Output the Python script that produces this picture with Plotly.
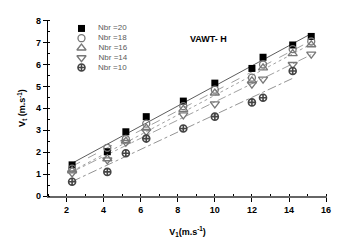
import numpy as np
import plotly.graph_objects as go

x_main = [2.3, 4.2, 5.2, 6.3, 8.3, 10.0, 12.0, 12.6, 14.2, 15.2]
x_n10 = [2.3, 4.2, 5.2, 6.3, 8.3, 10.0, 12.0, 12.6, 14.2]

nbr20 = [1.42, 2.02, 2.93, 3.62, 4.33, 5.15, 5.82, 6.33, 6.89, 7.28]
nbr18 = [1.25, 2.20, 2.60, 3.30, 4.10, 4.85, 5.40, 6.00, 6.70, 7.05]
nbr16 = [1.15, 1.70, 2.50, 3.10, 3.95, 4.70, 5.25, 5.85, 6.50, 6.90]
nbr14 = [1.05, 1.65, 2.45, 2.95, 3.70, 4.20, 5.10, 5.33, 6.00, 6.47]
nbr10 = [0.65, 1.10, 1.95, 2.62, 3.08, 3.62, 4.27, 4.48, 5.70]

labels = ["Nbr =20", "Nbr =18", "Nbr =16", "Nbr =14", "Nbr =10"]
x_ticks = [2, 4, 6, 8, 10, 12, 14, 16]
y_ticks = [0, 1, 2, 3, 4, 5, 6, 7, 8]

series = [
    (labels[0], x_main, nbr20, dict(symbol="square", color="black", size=7), "solid", "#333333"),
    (labels[1], x_main, nbr18, dict(symbol="circle-open", color="#777777", size=7, line=dict(width=1.3)), "dash", "#888888"),
    (labels[2], x_main, nbr16, dict(symbol="triangle-up-open", color="#777777", size=8, line=dict(width=1.3)), "dot", "#888888"),
    (labels[3], x_main, nbr14, dict(symbol="triangle-down-open", color="#777777", size=8, line=dict(width=1.3)), "dashdot", "#888888"),
    (labels[4], x_n10, nbr10, dict(symbol="circle-cross-open", color="#444444", size=7, line=dict(width=1.6)), "dashdot", "#777777"),
]

fig = go.Figure()
for name, xs, ys, mk, dash, lc in series:
    xs_a = np.array(xs)
    k, b = np.polyfit(xs_a, np.array(ys), 1)
    xl = np.array([xs_a.min(), xs_a.max()])
    fig.add_trace(go.Scatter(x=xl, y=k * xl + b, mode="lines",
                             line=dict(color=lc, width=0.8, dash=dash),
                             showlegend=False, hoverinfo="skip"))
for name, xs, ys, mk, dash, lc in series:
    fig.add_trace(go.Scatter(x=xs, y=ys, mode="markers", name=name, marker=mk,
                             showlegend=False))

# compact legend drawn on an overlaid hidden axis pair (layout only)
leg_top, leg_step, leg_x = 0.952, 0.0555, 0.12
for i, (name, xs, ys, mk, dash, lc) in enumerate(series):
    fig.add_trace(go.Scatter(x=[leg_x], y=[leg_top - i * leg_step], xaxis="x2", yaxis="y2",
                             mode="markers+text", marker=mk, text=["     " + name],
                             textposition="middle right",
                             textfont=dict(family="Arial", size=8, color="#5a5a5a"),
                             showlegend=False, hoverinfo="skip"))

fig.add_annotation(text="<b>VAWT- H</b>", xref="paper", yref="paper",
                   x=0.576, y=0.93, showarrow=False,
                   font=dict(family="Arial", size=9, color="black"))

fig.update_layout(
    width=343, height=248,
    margin=dict(l=48, r=12, t=20, b=40),
    paper_bgcolor="white", plot_bgcolor="white",
    font=dict(family="Arial", size=9, color="black"),
    showlegend=False,
    xaxis=dict(range=[1, 16.05], tickvals=x_ticks, showgrid=False, zeroline=False,
               showline=True, linecolor="#666666", linewidth=1.5,
               ticks="outside", ticklen=4, tickcolor="black",
               minor=dict(dtick=1, ticks="inside", ticklen=2, tickcolor="black"),
               tickfont=dict(family="Arial", size=9, weight="bold"),
               title=dict(text="<b>V<sub>1</sub>(m.s<sup>-1</sup>)</b>", font=dict(size=9), standoff=15)),
    yaxis=dict(range=[0, 8.03], tickvals=y_ticks, showgrid=False, zeroline=False,
               showline=True, linecolor="black", linewidth=1.2,
               ticks="outside", ticklen=4, tickcolor="black",
               minor=dict(dtick=0.5, ticks="inside", ticklen=2, tickcolor="black"),
               tickfont=dict(family="Arial", size=9, weight="bold"),
               title=dict(text="<b>V<sub>t</sub> (m.s<sup>-1</sup>)</b>", font=dict(size=9), standoff=8)),
    xaxis2=dict(overlaying="x", range=[0, 1], visible=False, fixedrange=True),
    yaxis2=dict(overlaying="y", range=[0, 1], visible=False, fixedrange=True),
)

fig.write_html("out.html", config={"displayModeBar": False},
               post_script="document.body.style.margin='0px';")
